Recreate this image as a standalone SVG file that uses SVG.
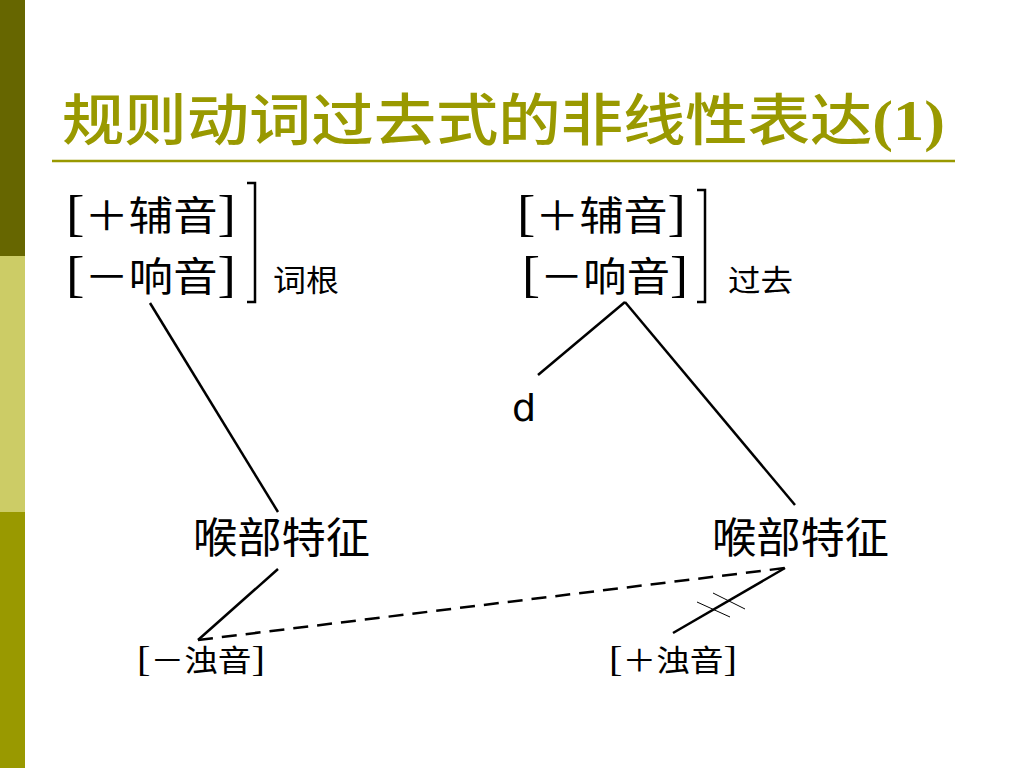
<svg xmlns="http://www.w3.org/2000/svg" width="1024" height="768" viewBox="0 0 1024 768">
<style>
.t{font-family:"Liberation Serif","Noto Sans CJK SC",serif;fill:#000}
.big{font-size:40px}
.mid{font-size:30px}
.lab{font-size:42px}
.bk{font-size:50px}
.bks{font-size:36px}
.ln{stroke:#000;stroke-width:2.5;fill:none}
.br{stroke:#000;stroke-width:2.5;fill:none}
</style>
<rect x="0" y="0" width="1024" height="768" fill="#fff"/>
<g id="sidebar">
<rect x="0" y="0" width="25" height="256" fill="#666600"/>
<rect x="0" y="256" width="25" height="256" fill="#CCCC66"/>
<rect x="0" y="512" width="25" height="256" fill="#999900"/>
</g>
<g id="title">
<text x="62" y="140" font-family="'Liberation Serif','Noto Sans CJK SC',serif" font-size="56" font-weight="500" fill="#999900" textLength="883" lengthAdjust="spacingAndGlyphs">规则动词过去式的非线性表达<tspan font-weight="bold">(1)</tspan></text>
<line x1="52" y1="161" x2="955" y2="161" stroke="#999900" stroke-width="2.5"/>
</g>
<g id="root-features">
<text class="t big" x="66" y="230" textLength="170" lengthAdjust="spacingAndGlyphs"><tspan class="bk">[</tspan>＋辅音<tspan class="bk">]</tspan></text>
<text class="t big" x="66" y="291" textLength="170" lengthAdjust="spacingAndGlyphs"><tspan class="bk">[</tspan>－响音<tspan class="bk">]</tspan></text>
<path class="br" d="M247,183 H255 V302 H247"/>
<text class="t mid" x="273" y="291" textLength="66" lengthAdjust="spacingAndGlyphs">词根</text>
</g>
<g id="past-features">
<text class="t big" x="517" y="230" textLength="169" lengthAdjust="spacingAndGlyphs"><tspan class="bk">[</tspan>＋辅音<tspan class="bk">]</tspan></text>
<text class="t big" x="522" y="291" textLength="166" lengthAdjust="spacingAndGlyphs"><tspan class="bk">[</tspan>－响音<tspan class="bk">]</tspan></text>
<path class="br" d="M697,190 H705 V302 H697"/>
<text class="t mid" x="728" y="291" textLength="65" lengthAdjust="spacingAndGlyphs">过去</text>
</g>
<g id="d-node">
<text x="512" y="421" font-family="'DejaVu Sans','Liberation Sans',sans-serif" font-size="38" fill="#000">d</text>
</g>
<g id="laryngeal-left">
<text class="t lab" x="193" y="553" textLength="177" lengthAdjust="spacingAndGlyphs">喉部特征</text>
</g>
<g id="laryngeal-right">
<text class="t lab" x="712" y="553" textLength="177" lengthAdjust="spacingAndGlyphs">喉部特征</text>
</g>
<g id="voiceless">
<text class="t mid" x="137" y="671" textLength="128" lengthAdjust="spacingAndGlyphs"><tspan class="bks">[</tspan>－浊音<tspan class="bks">]</tspan></text>
</g>
<g id="voiced">
<text class="t mid" x="609" y="671" textLength="128" lengthAdjust="spacingAndGlyphs"><tspan class="bks">[</tspan>＋浊音<tspan class="bks">]</tspan></text>
</g>
<g id="connectors">
<line class="ln" x1="150" y1="303" x2="278" y2="512"/>
<line class="ln" x1="625" y1="302" x2="538" y2="375"/>
<line class="ln" x1="625" y1="302" x2="795" y2="505"/>
<line class="ln" x1="278" y1="569" x2="198" y2="640"/>
<line class="ln" x1="198" y1="640" x2="785" y2="568" stroke-width="3" stroke-dasharray="15,9"/>
<line class="ln" x1="785" y1="568" x2="673" y2="633"/>
<line x1="697" y1="602" x2="730" y2="617" stroke="#000" stroke-width="1"/>
<line x1="713" y1="593" x2="745" y2="609" stroke="#000" stroke-width="1"/>
</g>
</svg>
